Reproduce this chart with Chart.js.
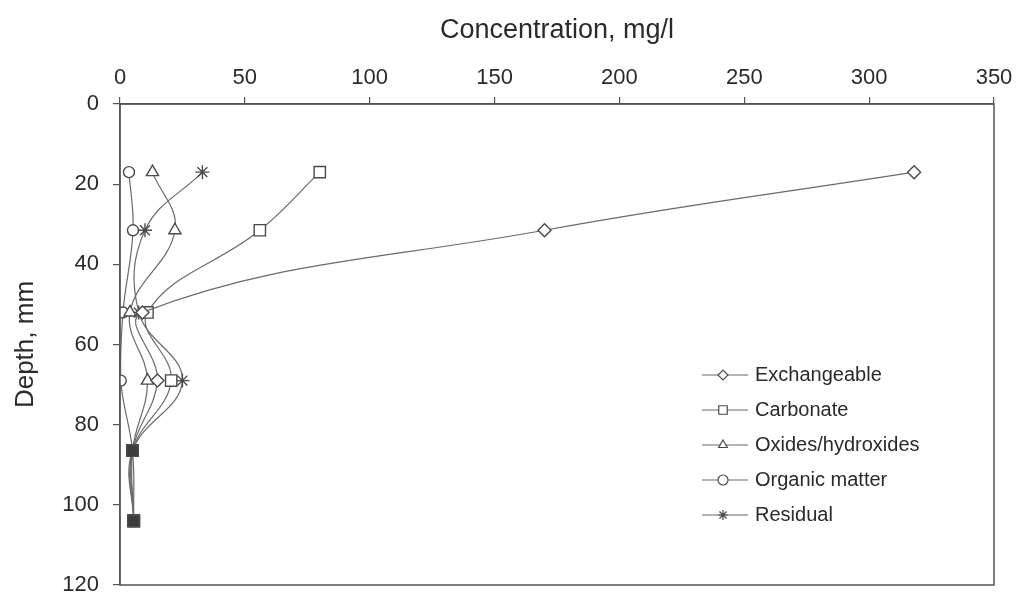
<!DOCTYPE html>
<html>
<head>
<meta charset="utf-8">
<script src="https://cdn.jsdelivr.net/npm/chart.js@4.4.2/dist/chart.umd.min.js"></script>
<style>
  html, body { margin: 0; padding: 0; background: #fff; }
  #wrap { width: 1021px; height: 599px; }
</style>
</head>
<body>
<div id="wrap"><canvas id="chart"></canvas></div>
<script>
// Depth of each sample (mm)
const depths = [17, 31.5, 52, 69, 86.5, 104];

// Concentration per fraction (mg/l)
const exchangeable = [318, 170, 9, 15, 5, 5.5];
const carbonate = [80, 56, 11, 20.5, 5, 5.5];
const oxides = [13, 22, 4, 11, 5, 5.5];
const organic = [3.6, 5.2, 1.2, 0.3, 5, 5.5];
const residual = [33, 10, 7.5, 25, 5, 5.5];

const seriesNames = ['Exchangeable', 'Carbonate', 'Oxides/hydroxides',
  'Organic matter', 'Residual'];

const xTicks = [0, 50, 100, 150, 200, 250, 300, 350];
const yTicks = [0, 20, 40, 60, 80, 100, 120];

const ink = '#4a4a4a';
const font = "'Liberation Sans', Arial, sans-serif";
const radii = {rectRot: 6.5, rect: 8, triangle: 7, circle: 5.5, star: 7};

function toPoints(values) {
  return values.map((v, i) => ({x: v, y: depths[i]}));
}

// the deepest two samples overlap and print as one dark square
function isDeep(ctx) {
  return ctx.raw && ctx.raw.y > 80;
}

function makeDataset(label, values, pointStyle) {
  return {
    label: label,
    data: toPoints(values),
    showLine: true,
    borderColor: '#6a6a6a',
    borderWidth: 1.2,
    tension: 0.4,
    pointStyle: ctx => isDeep(ctx) ? 'rect' : pointStyle,
    pointRadius: ctx => isDeep(ctx) ? 8 : radii[pointStyle],
    pointBorderColor: ink,
    pointBorderWidth: 1.4,
    pointBackgroundColor: ctx => isDeep(ctx) ? '#3c3c3c' : '#fff'
  };
}

const styles = ['rectRot', 'rect', 'triangle', 'circle', 'star'];

// frame around the plot area plus the in-plot legend
const framePlugin = {
  id: 'frame',
  afterDraw(chart) {
    const {ctx, chartArea: a} = chart;
    ctx.save();
    ctx.strokeStyle = '#555';
    ctx.lineWidth = 1.5;
    ctx.strokeRect(a.left, a.top, a.right - a.left, a.bottom - a.top);

    // legend
    const lx = 702, tx = 755;
    let ly = 375;
    styles.forEach((st, i) => {
      ctx.strokeStyle = '#6a6a6a';
      ctx.lineWidth = 1.2;
      ctx.beginPath();
      ctx.moveTo(lx, ly);
      ctx.lineTo(lx + 46, ly);
      ctx.stroke();
      ctx.fillStyle = '#fff';
      ctx.strokeStyle = ink;
      ctx.lineWidth = 1.2;
      Chart.helpers.drawPoint(ctx, {
        pointStyle: st, radius: st === 'rect' ? 6 : 5, borderWidth: 1.2, rotation: 0
      }, lx + 21, ly);
      ctx.fillStyle = '#2a2a2a';
      ctx.font = '20px ' + font;
      ctx.textBaseline = 'middle';
      ctx.fillText(seriesNames[i], tx, ly);
      ly += 35;
    });
    ctx.restore();
  }
};

new Chart(document.getElementById('chart'), {
  type: 'scatter',
  data: {
    datasets: [
      makeDataset(seriesNames[0], exchangeable, styles[0]),
      makeDataset(seriesNames[1], carbonate, styles[1]),
      makeDataset(seriesNames[2], oxides, styles[2]),
      makeDataset(seriesNames[3], organic, styles[3]),
      makeDataset(seriesNames[4], residual, styles[4])
    ]
  },
  options: {
    responsive: true,
    maintainAspectRatio: false,
    animation: false,
    layout: {padding: {left: 0, right: 27, top: 0, bottom: 14}},
    plugins: {
      legend: {display: false},
      tooltip: {enabled: false}
    },
    scales: {
      x: {
        type: 'linear',
        position: 'top',
        min: 0,
        max: 350,
        afterFit: s => { s.height = 104; },
        afterBuildTicks: s => { s.ticks = xTicks.map(v => ({value: v})); },
        grid: {drawOnChartArea: false, drawTicks: true, tickLength: 7,
          color: '#555', lineWidth: 1.2},
        border: {color: '#555', width: 1.5},
        ticks: {color: '#2a2a2a', font: {family: font, size: 22}, padding: 6},
        title: {display: true, text: 'Concentration, mg/l', color: '#2a2a2a',
          font: {family: font, size: 27}, padding: {top: 14, bottom: 0}}
      },
      y: {
        type: 'linear',
        reverse: true,
        min: 0,
        max: 120,
        afterFit: s => { s.width = 120; s.paddingTop = 0; s.paddingBottom = 0; },
        afterBuildTicks: s => { s.ticks = yTicks.map(v => ({value: v})); },
        grid: {drawOnChartArea: false, drawTicks: true, tickLength: 7,
          color: '#555', lineWidth: 1.2},
        border: {color: '#555', width: 1.5},
        ticks: {color: '#2a2a2a', font: {family: font, size: 22}, padding: 14},
        title: {display: true, text: 'Depth, mm', color: '#2a2a2a',
          font: {family: font, size: 26}, padding: {top: 10, bottom: 0}}
      }
    }
  },
  plugins: [framePlugin]
});
</script>
</body>
</html>
